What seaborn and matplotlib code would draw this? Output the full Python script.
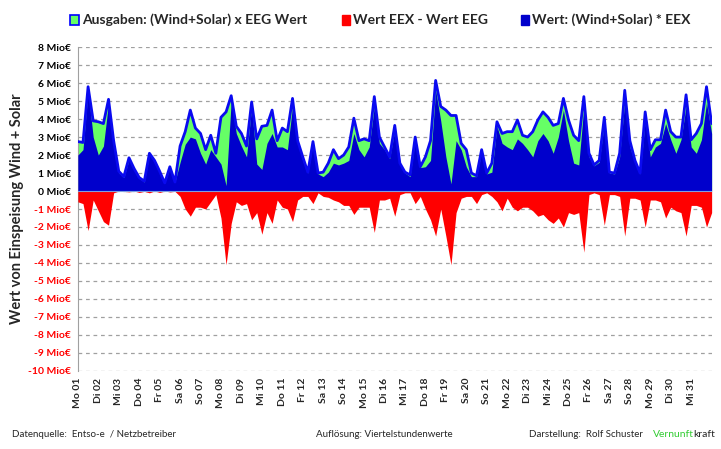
import numpy as np
import pandas as pd
import matplotlib
matplotlib.use('Agg')
import matplotlib.pyplot as plt
import seaborn as sns

sns.set_style('white')
plt.rcParams['font.family'] = ['Lato', 'DejaVu Sans']

# Werte alle 6 Stunden, 01. bis 31. (Mio €)
eeg = [2.75, 2.7, 5.8, 3.9, 3.85, 3.75, 5.1, 2.8, 1.1, 0.8, 1.85, 1.25,
       0.75, 0.55, 2.1, 1.7, 1.1, 0.45, 1.35, 0.5, 2.5, 3.3, 4.5, 3.5,
       3.2, 2.3, 3.1, 2.1, 4.1, 4.4, 5.3, 3.6, 3.2, 2.5, 4.95, 2.9,
       3.6, 3.65, 4.5, 2.8, 3.5, 3.3, 5.15, 2.8, 1.9, 1.05, 2.75, 1.0,
       1.05, 1.55, 2.3, 1.8, 2.0, 2.45, 4.05, 2.8, 2.9, 2.8, 5.25, 3.0,
       2.45, 1.9, 3.65, 1.55, 1.05, 0.9, 3.0, 1.35, 1.9, 2.8, 6.15, 4.7,
       4.5, 4.2, 4.2, 2.65, 2.3, 1.0, 0.85, 2.3, 1.0, 1.55, 3.85, 3.2,
       3.3, 3.3, 3.95, 3.1, 3.0, 3.3, 3.95, 4.4, 4.1, 3.65, 3.75, 5.15,
       3.95, 3.1, 2.8, 5.25, 2.1, 1.45, 1.7, 4.1, 1.05, 1.0, 2.1, 5.6,
       2.8, 1.7, 1.0, 4.4, 2.3, 2.85, 2.85, 4.5, 3.3, 3.0, 3.0, 5.35,
       2.85, 3.2, 3.75, 5.8, 3.75]
eex = [2.0, 2.3, 5.6, 3.0, 2.0, 2.5, 4.9, 2.7, 1.0, 0.75, 1.75, 1.2,
       0.7, 0.5, 2.05, 1.65, 1.05, 0.45, 1.3, 0.5, 1.6, 2.6, 3.0, 2.9,
       2.1, 1.5, 2.3, 1.9, 1.5, 0.3, 5.0, 3.2, 2.5, 1.9, 4.7, 1.5,
       1.2, 2.65, 3.2, 2.45, 2.45, 2.3, 4.7, 2.65, 1.7, 1.0, 2.7, 0.95,
       0.8, 1.05, 1.55, 1.45, 1.55, 1.7, 3.2, 2.3, 1.9, 2.45, 4.7, 2.65,
       2.3, 1.8, 3.4, 1.5, 1.0, 0.8, 2.9, 1.3, 1.35, 1.7, 5.6, 3.9,
       1.9, 0.4, 2.8, 2.3, 1.35, 0.8, 0.8, 2.2, 0.95, 1.05, 3.6, 2.65,
       2.45, 2.3, 2.9, 2.65, 2.3, 1.9, 2.8, 3.2, 2.8, 2.1, 3.0, 4.5,
       2.8, 1.55, 1.45, 4.7, 1.9, 1.4, 1.6, 3.8, 1.0, 0.95, 1.9, 5.0,
       2.45, 1.55, 0.95, 3.95, 1.9, 2.45, 2.65, 3.75, 2.85, 2.1, 2.85, 4.7,
       2.45, 2.1, 2.85, 4.9, 3.2]
diff = [-0.6, -0.7, -2.2, -0.5, -1.1, -1.7, -1.9, -0.1, 0.0, -0.02, -0.05, 0.0,
        -0.08, -0.02, -0.1, 0.0, -0.08, 0.0, -0.05, -0.02, -0.3, -1.0, -1.4, -0.9,
        -0.9, -1.0, -0.6, -0.2, -1.5, -4.1, -1.8, -0.6, -0.8, -0.7, -1.6, -1.2,
        -2.4, -1.2, -1.8, -0.5, -0.9, -1.0, -1.7, -0.5, -0.3, -0.3, -0.7, -0.1,
        -0.3, -0.35, -0.5, -0.6, -0.8, -0.8, -1.3, -0.9, -0.9, -0.9, -2.3, -0.5,
        -0.5, -0.4, -1.4, -0.2, -0.1, -0.1, -0.7, -0.3, -1.0, -1.6, -2.5, -1.0,
        -2.5, -4.1, -1.2, -0.4, -0.3, -0.3, -0.7, -0.2, -0.1, -0.3, -0.6, -1.1,
        -0.4, -0.9, -1.1, -0.9, -0.9, -1.1, -1.4, -1.3, -1.6, -1.8, -1.5, -2.0,
        -1.2, -1.3, -1.2, -3.4, -0.2, -0.1, -0.2, -1.9, -0.2, -0.2, -0.3, -2.5,
        -0.4, -0.4, -0.5, -2.0, -0.5, -0.5, -0.6, -1.5, -0.9, -1.1, -1.2, -2.5,
        -0.8, -0.8, -0.9, -2.0, -1.2]

weekdays = ['Mo', 'Di', 'Mi', 'Do', 'Fr', 'Sa', 'So']
day_labels = [f'{weekdays[i % 7]} {i + 1:02d}' for i in range(31)]

df = pd.DataFrame({'tag': np.arange(len(eeg)) * 0.25,
                   'eeg': eeg, 'eex': eex, 'diff': diff})

fig = plt.figure(figsize=(7.21, 4.49), dpi=100)
ax = fig.add_axes([0.108, 0.174, 0.879, 0.721])

ax.fill_between(df['tag'], 0, df['eeg'], color='#66FF66', lw=0, zorder=2)
ax.fill_between(df['tag'], 0, df['eex'], color='#0000CC', lw=0, zorder=3)
sns.lineplot(data=df, x='tag', y='eeg', color='#0A0AF0', lw=2, ax=ax, zorder=4)
ax.fill_between(df['tag'], 0, df['diff'], color='#FF0000', lw=0, zorder=3)
ax.axhline(0, color='#7F9FE0', lw=0.8, zorder=5)

ax.set_xlim(0, 31)
ax.set_ylim(-10, 8)
yt = np.arange(-10, 9)
ax.set_yticks(yt)
ax.set_yticklabels([f'{v} Mio€' for v in yt], fontsize=7.5, fontweight='bold')
for lab, v in zip(ax.get_yticklabels(), yt):
    lab.set_color('red' if v < 0 else 'black')
ax.set_xticks(np.arange(31))
ax.set_xticklabels(day_labels, rotation=90, fontsize=7.5, fontweight='bold')
ax.tick_params(axis='both', length=3, color='#888888', pad=2)
ax.grid(axis='y', color='#A0A0A0', ls=(0, (3, 3)), lw=0.9, zorder=0)
for s in ['top', 'right', 'bottom']:
    ax.spines[s].set_visible(False)
ax.spines['left'].set_color('#A0A0A0')
ax.set_xlabel('')
ax.set_ylabel('Wert von Einspeisung Wind + Solar', fontsize=10.5, fontweight='bold')
ax.yaxis.set_label_coords(-0.085, 0.5)

# Legende oben
fig.patches.append(plt.Rectangle((0.097, 0.945), 0.013, 0.022, transform=fig.transFigure,
                                 facecolor='#66FF66', edgecolor='#0000FF', lw=1.2))
fig.text(0.114, 0.956, 'Ausgaben: (Wind+Solar) x EEG Wert', fontsize=10, fontweight='bold', va='center')
fig.patches.append(plt.Rectangle((0.474, 0.945), 0.012, 0.022, transform=fig.transFigure,
                                 facecolor='#FF0000', edgecolor='#FF0000'))
fig.text(0.490, 0.956, 'Wert EEX - Wert EEG', fontsize=10, fontweight='bold', va='center')
fig.patches.append(plt.Rectangle((0.722, 0.945), 0.012, 0.022, transform=fig.transFigure,
                                 facecolor='#0000CC', edgecolor='#0000CC'))
fig.text(0.738, 0.956, 'Wert: (Wind+Solar) * EEX', fontsize=10, fontweight='bold', va='center')

# Fusszeile
fig.text(0.016, 0.027, 'Datenquelle:  Entso-e  / Netzbetreiber', fontsize=7)
fig.text(0.438, 0.027, 'Auflösung: Viertelstundenwerte', fontsize=7)
fig.text(0.734, 0.027, 'Darstellung:  Rolf Schuster', fontsize=7)
t1 = fig.text(0.906, 0.027, 'Vernunft', fontsize=7.5, color='#33CC33')
fig.canvas.draw()
bb = t1.get_window_extent(fig.canvas.get_renderer())
x_end = (bb.x1 - 1) / fig.bbox.width
fig.text(x_end, 0.027, 'kraft', fontsize=7.5)

fig.savefig('out.png', dpi=100)
